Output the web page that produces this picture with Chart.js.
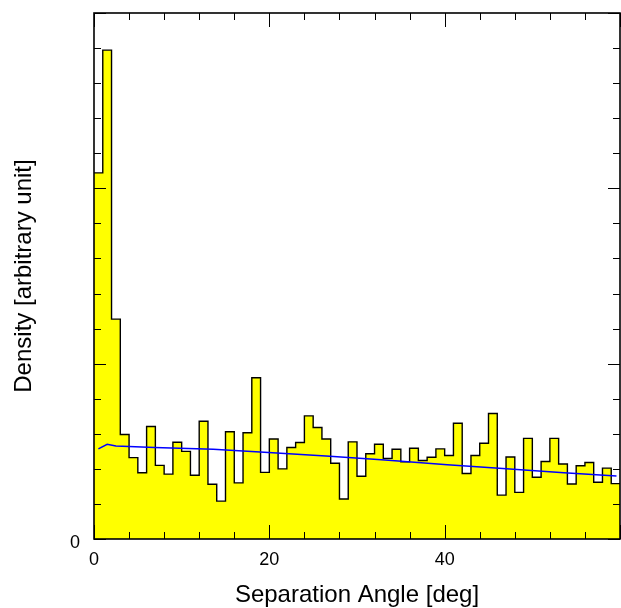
<!DOCTYPE html>
<html lang="en">
<head>
    <meta charset="UTF-8">
    <title>Separation angle density</title>
    <style>
        html, body { margin: 0; padding: 0; background: #fff; }
        canvas { display: block; }
    </style>
</head>
<body>
    <canvas id="separation_chart" width="621" height="608"></canvas>
</body>
<script src="https://cdn.jsdelivr.net/npm/chart.js@4.4.1/dist/chart.umd.min.js"></script>
<script>
    // histogram: 1 deg bins starting at 0
    const binWidth = 1;
    const density = [
        10.44, 13.94, 6.27, 2.98, 2.32, 1.89, 3.21, 2.10, 1.85, 2.76,
        2.50, 1.82, 3.36, 1.56, 1.08, 3.06, 1.60, 3.03, 4.60, 1.90,
        2.85, 2.00, 2.61, 2.75, 3.51, 3.18, 2.85, 2.16, 1.14, 2.77,
        1.79, 2.43, 2.70, 2.30, 2.56, 2.20, 2.59, 2.24, 2.33, 2.57,
        2.38, 3.30, 1.87, 2.38, 2.73, 3.58, 1.25, 2.34, 1.33, 2.87,
        1.76, 2.21, 2.87, 2.14, 1.57, 2.09, 2.18, 1.62, 2.02, 1.58
    ];

    // smooth background curve
    const fitAngle   = [0.5, 1.5, 2.5, 6.9, 13.6, 19.9, 26.9, 33.2, 40.3, 46.2, 53.6, 59.6];
    const fitDensity = [2.57, 2.70, 2.65, 2.61, 2.56, 2.47, 2.36, 2.25, 2.12, 2.02, 1.89, 1.80];

    const xTickLabels = [0, 20, 40];
    const yTickLabels = [0];

    const FONT = "'Liberation Sans', Arial, Helvetica, sans-serif";

    // left bin edges + closing point at the end of the last bin
    const histPoints = density.map((v, i) => ({x: i * binWidth, y: v}));
    histPoints.push({x: density.length * binWidth, y: density[density.length - 1]});

    const fitPoints = fitAngle.map((a, i) => ({x: a, y: fitDensity[i]}));

    // frame with inward tick marks on all four sides
    const frameTicks = {
        id: 'frameTicks',
        afterDatasetsDraw(chart) {
            const {ctx, chartArea: a, scales: {x, y}} = chart;
            ctx.save();
            ctx.strokeStyle = '#000';
            ctx.lineWidth = 1;
            ctx.beginPath();
            x.ticks.forEach(t => {
                const px = Math.round(x.getPixelForValue(t.value)) + 0.5;
                const len = t.value % 20 === 0 ? 14 : 7;
                ctx.moveTo(px, a.bottom); ctx.lineTo(px, a.bottom - len);
                ctx.moveTo(px, a.top); ctx.lineTo(px, a.top + len);
            });
            y.ticks.forEach(t => {
                const py = Math.round(y.getPixelForValue(t.value)) + 0.5;
                const len = t.value % 5 === 0 ? 12 : 7;
                ctx.moveTo(a.left, py); ctx.lineTo(a.left + len, py);
                ctx.moveTo(a.right, py); ctx.lineTo(a.right - len, py);
            });
            ctx.stroke();
            ctx.lineWidth = 1.6;
            ctx.strokeRect(a.left, a.top, a.right - a.left, a.bottom - a.top);
            ctx.restore();
        }
    };

    const ctx = document.getElementById('separation_chart').getContext('2d');

    new Chart(ctx, {
        type: 'line',
        data: {
            datasets: [
                {
                    label: 'fit',
                    data: fitPoints,
                    borderColor: '#0000ff',
                    borderWidth: 1.5,
                    pointRadius: 0,
                    fill: false,
                    tension: 0,
                    order: 0
                },
                {
                    label: 'density',
                    data: histPoints,
                    stepped: 'before',
                    borderColor: '#000',
                    borderWidth: 1.4,
                    backgroundColor: '#ffff00',
                    fill: 'origin',
                    pointRadius: 0,
                    order: 1
                }
            ]
        },
        options: {
            responsive: false,
            animation: false,
            events: [],
            layout: { padding: { top: 13, right: 1, left: 0, bottom: 0 } },
            plugins: {
                legend: { display: false },
                tooltip: { enabled: false }
            },
            scales: {
                x: {
                    type: 'linear',
                    min: 0,
                    max: 60,
                    grid: { display: false, drawTicks: false },
                    border: { display: false },
                    ticks: {
                        stepSize: 4,
                        autoSkip: false,
                        maxRotation: 0,
                        padding: 10,
                        color: '#000',
                        font: { family: FONT, size: 18 },
                        callback: v => xTickLabels.includes(v) ? String(v) : ''
                    },
                    title: {
                        display: true,
                        text: 'Separation Angle [deg]',
                        color: '#000',
                        font: { family: FONT, size: 24 },
                        padding: { top: 0, bottom: -2 }
                    },
                    afterFit: s => {
                        s.height = 69;
                        s.paddingLeft = 0;
                        s.paddingRight = 0;
                    }
                },
                y: {
                    min: 0,
                    max: 15,
                    grid: { display: false, drawTicks: false },
                    border: { display: false },
                    ticks: {
                        stepSize: 1,
                        autoSkip: false,
                        padding: 14,
                        labelOffset: 4,
                        color: '#000',
                        font: { family: FONT, size: 18 },
                        callback: v => yTickLabels.includes(v) ? String(v) : ''
                    },
                    title: {
                        display: true,
                        text: 'Density [arbitrary unit]',
                        color: '#000',
                        font: { family: FONT, size: 24 },
                        padding: { top: 10, bottom: 0 }
                    },
                    afterFit: s => {
                        s.width = 94;
                        s.paddingTop = 0;
                        s.paddingBottom = 0;
                    }
                }
            }
        },
        plugins: [frameTicks]
    });
</script>
</html>
